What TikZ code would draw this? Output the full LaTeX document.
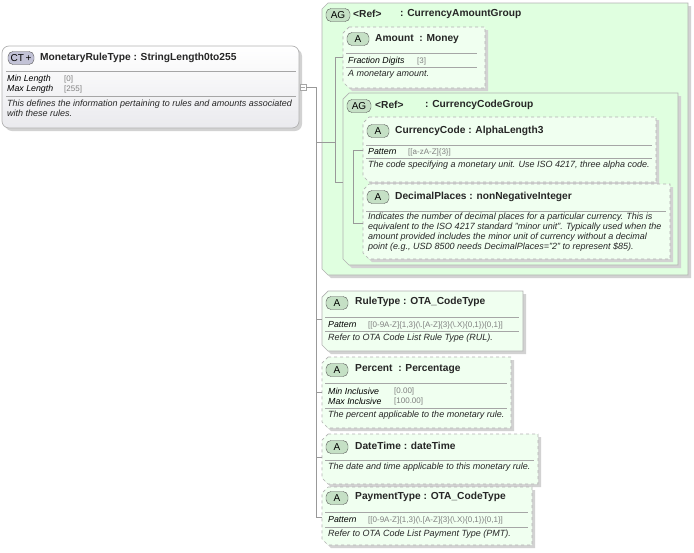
\documentclass[tikz,border=0pt]{standalone}
\usepackage{fontspec}
\setmainfont{Liberation Sans}
\begin{document}
\begin{tikzpicture}[x=1pt,y=-1pt,
  title/.style={anchor=west,font=\bfseries\fontsize{10.2}{12}\selectfont,text=black!85,inner sep=0},
  prop/.style={anchor=west,font=\itshape\fontsize{8.8}{10}\selectfont,inner sep=0},
  val/.style={anchor=west,font=\fontsize{8}{9}\selectfont,text=gray,inner sep=0},
  desc/.style={anchor=north west,font=\itshape\fontsize{9}{10}\selectfont,inner sep=0,align=left,text=black!85},
  sep/.style={gray!70,line width=0.6pt},
  conn/.style={gray!80,line width=0.6pt},
  badge/.style={draw=gray!70!black,fill=green!30!gray!35,rounded corners=5pt,minimum width=22pt,minimum height=13pt,inner sep=0,font=\fontsize{10}{10}\selectfont},
  optbox/.style={draw=gray!60,dashed,fill=green!6,line width=0.7pt},
  reqbox/.style={draw=gray!60,fill=green!6,line width=0.7pt},
  grpbox/.style={draw=gray!60,fill=green!12,line width=0.7pt},
]
\useasboundingbox (0,0) rectangle (694,552);
\newcommand\octa[5]{%
  \fill[gray!35] (#1+3+6,#2+3) -- (#3+3,#2+3) -- (#3+3,#4+3) -- (#1+3+6,#4+3) -- (#1+3,#4+3-6) -- (#1+3,#2+3+6) -- cycle;
  \draw[#5] (#1+6,#2) -- (#3,#2) -- (#3,#4) -- (#1+6,#4) -- (#1,#4-6) -- (#1,#2+6) -- cycle;}
\newcommand\sepl[3]{\draw[sep] (#1,#3) -- (#2,#3);}
% CT box
\fill[gray!35,rounded corners=7pt] (5,49) rectangle (302,131);
\draw[gray!60,line width=0.7pt,top color=white,bottom color=blue!10!gray!15,rounded corners=7pt] (2,46) rectangle (299,128);
\node[badge,fill=blue!20!gray!40,minimum width=26pt] (ct) at (21,58) {CT\,+};
\node[title] (ctt) at (40,58) {MonetaryRuleType : StringLength0to255};
\sepl{6}{296}{71}
\node[prop] at (7,79) {Min Length}; \node[val] at (64,79) {[0]};
\node[prop] at (7,89) {Max Length}; \node[val] at (64,89) {[255]};
\sepl{6}{296}{96}
\node[desc] at (7,100) {This defines the information pertaining to rules and amounts associated\\with these rules.};
\node[draw=gray!70,fill=white,minimum size=6pt,inner sep=0] (col) at (303,87) {};
\draw[gray!70] (301,87) -- (305,87);
% outer group
\octa{322}{3}{688}{275}{grpbox}
\node[badge,minimum width=24pt] at (338,15) {AG};
\node[title] at (353,14) {<Ref>};
\node[title] at (400,14) {: CurrencyAmountGroup};
% Amount
\octa{343}{27}{485}{88}{optbox}
\node[badge] (aAm) at (358,39) {A}; \node[title] at (375,39) {Amount \ : Money};
\sepl{346}{477}{53}
\node[prop] at (348,61) {Fraction Digits}; \node[val] at (417,61) {[3]};
\sepl{346}{477}{67}
\node[desc] at (348,70) {A monetary amount.};
% inner group
\octa{343}{93}{678}{265}{grpbox}
\node[badge,minimum width=24pt] at (359,106) {AG};
\node[title] at (375,105) {<Ref>};
\node[title] at (425,105) {: CurrencyCodeGroup};
% CurrencyCode
\octa{363}{117}{656}{182}{optbox}
\node[badge] at (378,131) {A}; \node[title] at (395,131) {CurrencyCode : AlphaLength3};
\sepl{366}{652}{145}
\node[prop] at (368,152) {Pattern}; \node[val] at (408,152) {[[a-zA-Z]\{3\}]};
\sepl{366}{652}{158}
\node[desc] at (368,161) {The code specifying a monetary unit. Use ISO 4217, three alpha code.};
% DecimalPlaces
\octa{363}{184}{670}{259}{optbox}
\node[badge] at (378,197) {A}; \node[title] at (395,197) {DecimalPlaces : nonNegativeInteger};
\sepl{366}{666}{211}
\node[desc] at (368,213) {Indicates the number of decimal places for a particular currency. This is\\equivalent to the ISO 4217 standard "minor unit". Typically used when the\\amount provided includes the minor unit of currency without a decimal\\point (e.g., USD 8500 needs DecimalPlaces="2" to represent \$85).};
% RuleType
\octa{322}{291}{523}{351}{reqbox}
\node[badge] at (337,303) {A}; \node[title] at (355,302) {RuleType : OTA\_CodeType};
\sepl{325}{519}{317}
\node[prop] at (328,325) {Pattern}; \node[val] at (368,325) {[[0-9A-Z]\{1,3\}(\textbackslash.[A-Z]\{3\}(\textbackslash.X)\{0,1\})\{0,1\}]};
\sepl{325}{519}{331}
\node[desc] at (328,334) {Refer to OTA Code List Rule Type (RUL).};
% Percent
\octa{322}{357}{511}{428}{optbox}
\node[badge] at (337,370) {A}; \node[title] at (355,369) {Percent \ : Percentage};
\sepl{325}{507}{383}
\node[prop] at (328,391) {Min Inclusive}; \node[val] at (394,391) {[0.00]};
\node[prop] at (328,401) {Max Inclusive}; \node[val] at (394,401) {[100.00]};
\sepl{325}{507}{408}
\node[desc] at (328,411) {The percent applicable to the monetary rule.};
% DateTime
\octa{322}{434}{538}{484}{optbox}
\node[badge] at (337,447) {A}; \node[title] at (355,446) {DateTime : dateTime};
\sepl{325}{534}{460}
\node[desc] at (328,463) {The date and time applicable to this monetary rule.};
% PaymentType
\octa{322}{487}{532}{545}{optbox}
\node[badge] at (337,498) {A}; \node[title] at (355,497) {PaymentType : OTA\_CodeType};
\sepl{325}{528}{512}
\node[prop] at (328,520) {Pattern}; \node[val] at (368,520) {[[0-9A-Z]\{1,3\}(\textbackslash.[A-Z]\{3\}(\textbackslash.X)\{0,1\})\{0,1\}]};
\sepl{325}{528}{527}
\node[desc] at (328,530) {Refer to OTA Code List Payment Type (PMT).};
% connectors
\draw[conn] (col.east) -- (316,87) -- (316,517) -- (322,517);
\draw[conn] (316,142) -- (335,142);
\draw[conn] (316,319) -- (322,319);
\draw[conn] (316,392) -- (322,392);
\draw[conn] (316,457) -- (322,457);
\draw[conn] (343,57) -- (335,57) -- (335,182) -- (343,182);
\draw[conn] (363,150) -- (353,150) -- (353,223) -- (363,223);
\end{tikzpicture}
\end{document}
